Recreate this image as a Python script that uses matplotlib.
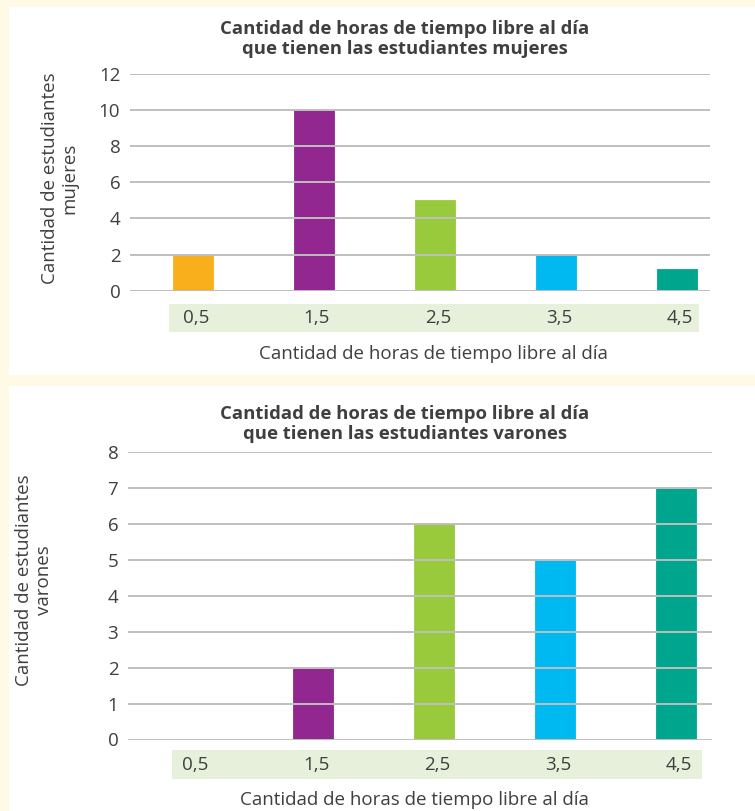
import matplotlib
matplotlib.use("Agg")
import matplotlib.pyplot as plt
from matplotlib.patches import Rectangle

plt.rcParams['font.family'] = ['Open Sans', 'Noto Sans', 'DejaVu Sans']

categories = ["0,5", "1,5", "2,5", "3,5", "4,5"]
mujeres = [2, 10, 5, 2, 1.2]
varones = [0, 2, 6, 5, 7]
colors = ["#F9AE1B", "#92278F", "#99CA3C", "#00B9F1", "#00A58D"]
title_m = "Cantidad de horas de tiempo libre al día\nque tienen las estudiantes mujeres"
title_v = "Cantidad de horas de tiempo libre al día\nque tienen las estudiantes varones"
ylabel_m = "Cantidad de estudiantes\nmujeres"
ylabel_v = "Cantidad de estudiantes\nvarones"
xlabel = "Cantidad de horas de tiempo libre al día"

W, H = 755, 811
fig = plt.figure(figsize=(W / 100, H / 100), dpi=100)
fig.patch.set_facecolor("#FFFAE6")
TXT = "#3F3F3F"
GRID = "#BFBFBF"
BAND = "#E6F0DA"
FS = 13.5


def rect_px(x0, y0, x1, y1, color, z):
    fig.patches.append(Rectangle((x0 / W, 1 - y1 / H), (x1 - x0) / W, (y1 - y0) / H,
                                 transform=fig.transFigure, facecolor=color,
                                 edgecolor="none", zorder=z))


def ax_px(x0, ytop, x1, ybot):
    ax = fig.add_axes([x0 / W, 1 - ybot / H, (x1 - x0) / W, (ybot - ytop) / H])
    ax.set_zorder(1)
    return ax


def txt_px(x, y, s, **kw):
    fig.text(x / W, 1 - y / H, s, color=TXT, zorder=3, **kw)


# white panels
rect_px(9, 7, 755, 375, "white", -2)
rect_px(9, 386, 755, 811, "white", -2)


def draw(ax, values, ymax, step, xlim, band, ylabel, ylab_x, ylab_y, title, title_y, xlab_y, xlab_x):
    ax.set_facecolor("none")
    pos = list(range(len(categories)))
    ax.bar(pos, values, width=0.33, color=colors, zorder=1,
           edgecolor=colors, linewidth=0.6)
    ax.set_xlim(*xlim)
    ax.set_ylim(0, ymax)
    ax.set_yticks(list(range(0, ymax + 1, step)))
    ax.set_axisbelow(False)
    ax.yaxis.grid(True, color=GRID, linewidth=1.4)
    ax.set_xticks([])
    for s in ax.spines.values():
        s.set_visible(False)
    ax.tick_params(axis="y", length=0, pad=7, labelsize=FS, labelcolor=TXT)
    # tick label band
    bx0, by0, bx1, by1 = band
    rect_px(bx0, by0, bx1, by1, BAND, -1)
    for p, c in zip(pos, categories):
        xd = ax.transData.transform((p, 0))[0]
        txt_px(xd + 3, (by0 + by1) / 2, c, ha="center", va="center", fontsize=FS)
    txt_px(ylab_x, ylab_y, ylabel, rotation=90, ha="center", va="center",
           fontsize=FS, linespacing=1.1)
    txt_px(405, title_y, title, ha="center", va="center", fontsize=13.3,
           fontweight="bold", linespacing=1.1)
    txt_px(xlab_x, xlab_y, xlabel, ha="center", va="center", fontsize=FS)


ax1 = ax_px(130, 74, 710, 290.7)
draw(ax1, mujeres, 12, 2, (-0.52, 4.273), (169, 304, 699, 332),
     ylabel_m, 60, 178, title_m, 39, 354, 433)

ax2 = ax_px(128, 452, 712, 739.5)
draw(ax2, varones, 8, 1, (-0.53, 4.30), (172, 750, 702, 779),
     ylabel_v, 34, 580, title_v, 424, 800, 414)

fig.savefig("out.png", dpi=100, facecolor=fig.get_facecolor())
